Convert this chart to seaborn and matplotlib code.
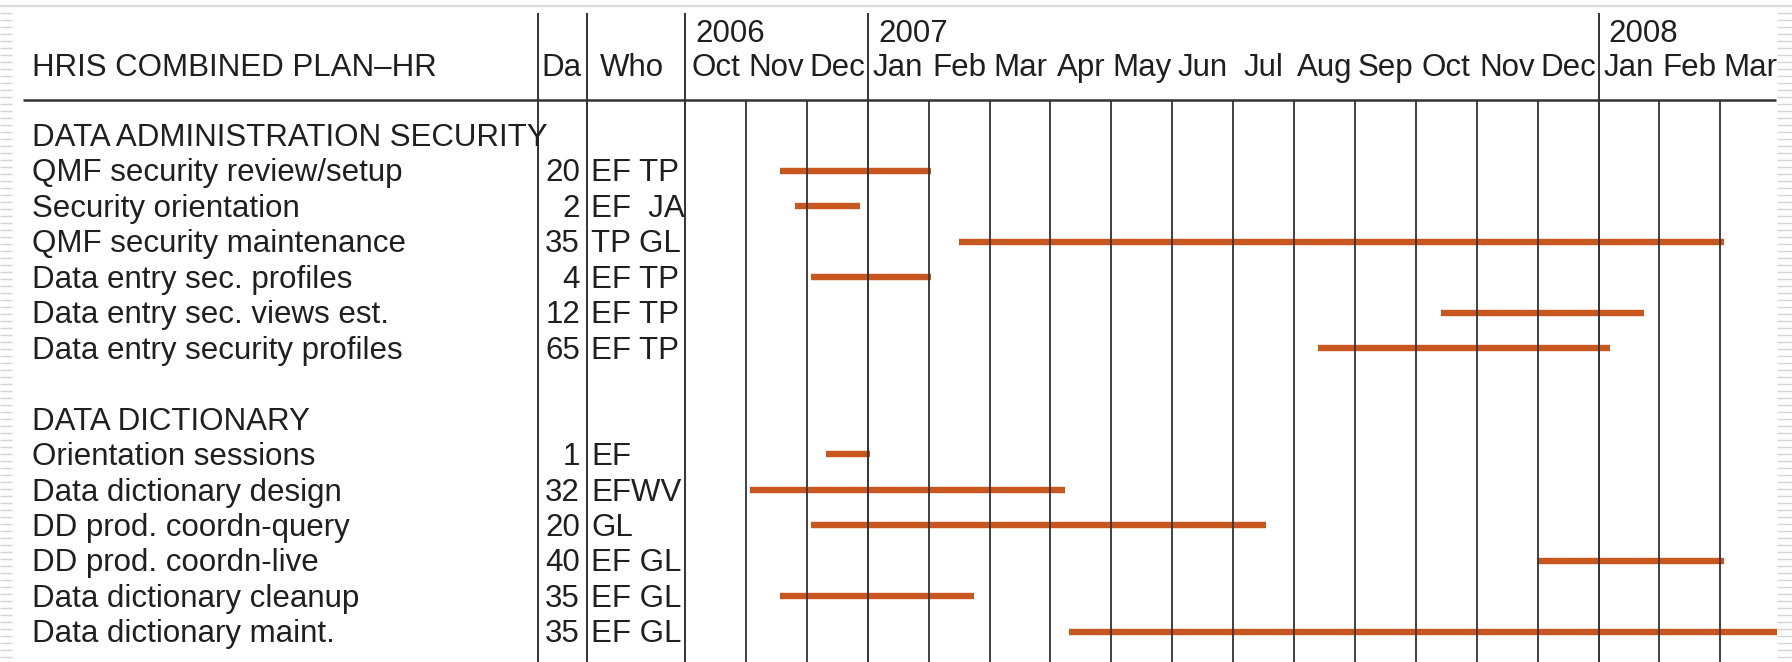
import calendar
import numpy as np
import pandas as pd
import matplotlib
matplotlib.use("Agg")
import matplotlib.pyplot as plt
import matplotlib.transforms as mtransforms
from matplotlib.collections import LineCollection
import seaborn as sns

# ---------------- data ----------------
row_labels = [
    "DATA ADMINISTRATION SECURITY",
    "QMF security review/setup",
    "Security orientation",
    "QMF security maintenance",
    "Data entry sec. profiles",
    "Data entry sec. views est.",
    "Data entry security profiles",
    "",
    "DATA DICTIONARY",
    "Orientation sessions",
    "Data dictionary design",
    "DD prod. coordn-query",
    "DD prod. coordn-live",
    "Data dictionary cleanup",
    "Data dictionary maint.",
]
task_rows = [1, 2, 3, 4, 5, 6, 9, 10, 11, 12, 13, 14]
task_days = [20, 2, 35, 4, 12, 65, 1, 32, 20, 40, 35, 35]
task_who = ["EF TP", "EF  JA", "TP GL", "EF TP", "EF TP", "EF TP",
            "EF", "EFWV", "GL", "EF GL", "EF GL", "EF GL"]
task_start = ["2006-11-18", "2006-11-25", "2007-02-15", "2006-12-03",
              "2007-10-14", "2007-08-13", "2006-12-11", "2006-11-03",
              "2006-12-03", "2007-12-01", "2006-11-18", "2007-04-10"]
task_end = ["2007-02-02", "2006-12-28", "2008-03-03", "2007-02-02",
            "2008-01-24", "2008-01-07", "2007-01-02", "2007-04-08",
            "2007-07-18", "2008-03-03", "2007-02-22", "2008-03-30"]

month_labels = ["Oct", "Nov", "Dec", "Jan", "Feb", "Mar", "Apr", "May", "Jun",
                "Jul", "Aug", "Sep", "Oct", "Nov", "Dec", "Jan", "Feb", "Mar"]
year_labels = ["2006", "2007", "2008"]
year_month_index = [0, 3, 15]

header_title = "HRIS COMBINED PLAN\u2013HR"
header_days = "Da"
header_who = "Who"


def month_pos(s):
    """Months since 1 Oct 2006 (fractional within a month)."""
    d = pd.Timestamp(s)
    ndays = calendar.monthrange(d.year, d.month)[1]
    return (d.year - 2006) * 12 + (d.month - 10) + (d.day - 1) / ndays


records = []
for i, r in enumerate(task_rows):
    records.append({"task": i, "row": r, "x": month_pos(task_start[i])})
    records.append({"task": i, "row": r, "x": month_pos(task_end[i])})
bars = pd.DataFrame(records)

# ---------------- style ----------------
sns.set_theme(style="white")
plt.rcParams["font.family"] = ["Liberation Sans", "DejaVu Sans"]

W, H = 1792, 662
fig = plt.figure(figsize=(W / 100, H / 100), dpi=100)
fig.patch.set_facecolor("white")
ax = fig.add_axes([0, 0, 1, 1])

# pixel layout -> data scales
x0_px, month_px = 685.0, 60.9
row0_px, row_px = 135.4, 35.45
XLIM = (-x0_px / month_px, (W - x0_px) / month_px)
YLIM = ((H - row0_px) / row_px, -row0_px / row_px)


def row_at(px):
    return (px - row0_px) / row_px


TXT = "#1f1f1f"
FS = 22.5
LINE = "#333333"
BAR = "#C8561F"

xax = mtransforms.blended_transform_factory(ax.transAxes, ax.transData)

y_bottom = row_at(H)
y_top_cols = row_at(13)
y_header_line = row_at(100)
y_header_text = row_at(76)
y_year_text = row_at(42)

# ---------------- bars (seaborn) ----------------
sns.lineplot(data=bars, x="x", y="row", units="task", estimator=None,
             sort=False, color=BAR, linewidth=4.6, solid_capstyle="butt",
             legend=False, ax=ax, zorder=2)
ax.axis("off")
ax.set_xlim(*XLIM)
ax.set_ylim(*YLIM)

# ---------------- grid lines ----------------
n_months = len(month_labels)
month_lines = [m for m in range(1, n_months) if m not in year_month_index]
ax.vlines(month_lines, y_header_line, y_bottom, color=LINE, lw=1.3, zorder=3)
ax.vlines(year_month_index, y_top_cols, y_bottom, color=LINE, lw=1.4, zorder=3)
ax.vlines([538 / W, 587 / W], y_top_cols, y_bottom, color=LINE, lw=1.4,
          transform=xax, zorder=3)
ax.hlines(y_header_line, 23 / W, 1776 / W, color="#333333", lw=1.8,
          transform=xax, zorder=3)

# ---------------- header texts ----------------
ax.text(32 / W, y_header_text, header_title, transform=xax, ha="left",
        va="baseline", fontsize=FS, color=TXT)
ax.text(541 / W, y_header_text, header_days, transform=xax, ha="left",
        va="baseline", fontsize=FS, color=TXT)
ax.text(600 / W, y_header_text, header_who, transform=xax, ha="left",
        va="baseline", fontsize=FS, color=TXT)
for i, lab in enumerate(month_labels):
    ax.text(i + 0.5, y_header_text, lab, ha="center", va="baseline",
            fontsize=FS, color=TXT)
for lab, mi in zip(year_labels, year_month_index):
    ax.text(mi + 0.17, y_year_text, lab, ha="left", va="baseline",
            fontsize=FS, color=TXT)

# ---------------- row texts ----------------
dy = 0.3
for r, lab in enumerate(row_labels):
    if lab:
        ax.text(32 / W, r + dy, lab, transform=xax, ha="left", va="baseline",
                fontsize=FS, color=TXT)
for r, d, w in zip(task_rows, task_days, task_who):
    ax.text(580 / W, r + dy, str(d), transform=xax, ha="right",
            va="baseline", fontsize=FS, color=TXT)
    ax.text(591 / W, r + dy, w, transform=xax, ha="left", va="baseline",
            fontsize=FS, color=TXT)

# ---------------- slide frame decoration ----------------
segs = []
for ypx in np.arange(13, H, 7):
    yf = 1 - ypx / H
    segs.append([(0, yf), (12 / W, yf)])
    segs.append([(1777 / W, yf), (1, yf)])
fig.add_artist(LineCollection(segs, colors="#d4d4d4", linewidths=1.0,
                              transform=fig.transFigure))
fig.add_artist(LineCollection([[(0, 1 - 6 / H), (1, 1 - 6 / H)]],
                              colors="#dadada", linewidths=1.6,
                              transform=fig.transFigure))

fig.savefig("out.png", dpi=100, facecolor="white")
